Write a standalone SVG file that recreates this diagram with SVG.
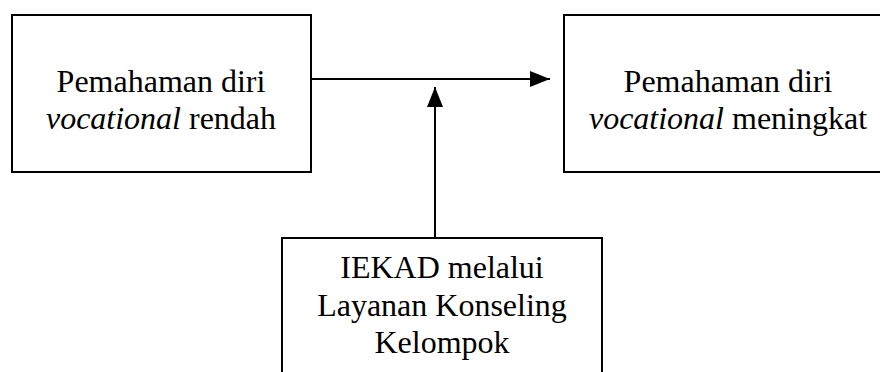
<svg xmlns="http://www.w3.org/2000/svg" width="880" height="372" viewBox="0 0 880 372">
<defs>
<style>
.box{fill:#fff;stroke:#000;stroke-width:2}
.t{font-family:'Liberation Serif','Times New Roman','DejaVu Serif',serif;font-size:32px;fill:#000;text-anchor:middle}
.i{font-style:italic}
.c{stroke:#000;stroke-width:2;fill:none}
</style>
<marker id="ah" viewBox="0 0 20 16" refX="20" refY="8" markerWidth="20" markerHeight="16" markerUnits="userSpaceOnUse" orient="auto">
<path d="M0,0 L20,8 L0,16 Z" fill="#000"/>
</marker>
</defs>
<rect width="880" height="372" fill="#fff"/>
<g id="node-left">
<rect class="box" x="12" y="15" width="299" height="157"/>
<text class="t" font-family="Liberation Serif, serif" x="161" y="92">Pemahaman diri</text>
<text class="t" font-family="Liberation Serif, serif" x="161" y="129"><tspan class="i">vocational</tspan> rendah</text>
</g>
<g id="node-right">
<rect class="box" x="564" y="15" width="330" height="157"/>
<text class="t" font-family="Liberation Serif, serif" x="728" y="92">Pemahaman diri</text>
<text class="t" font-family="Liberation Serif, serif" x="728" y="129"><tspan class="i">vocational</tspan> meningkat</text>
</g>
<g id="node-bottom">
<rect class="box" x="282" y="238" width="320" height="150"/>
<text class="t" font-family="Liberation Serif, serif" x="442" y="278">IEKAD melalui</text>
<text class="t" font-family="Liberation Serif, serif" x="442" y="315.5">Layanan Konseling</text>
<text class="t" font-family="Liberation Serif, serif" x="442" y="353">Kelompok</text>
</g>
<g id="connectors">
<line class="c" x1="311" y1="79" x2="550" y2="79" marker-end="url(#ah)"/>
<line class="c" x1="435" y1="238" x2="435" y2="87" marker-end="url(#ah)"/>
</g>
</svg>
